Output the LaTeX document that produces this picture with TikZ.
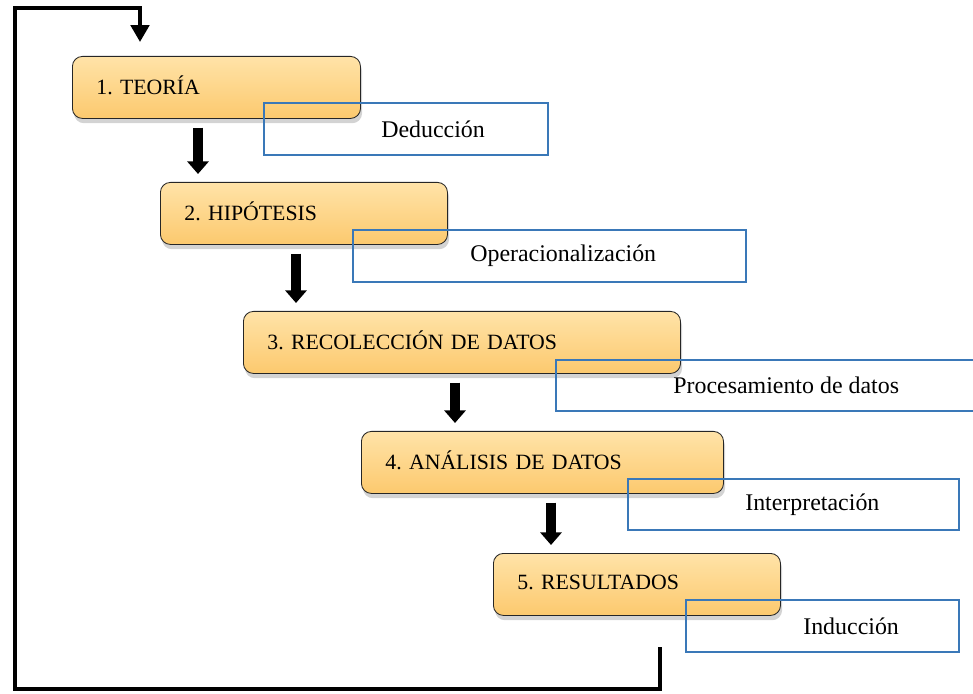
\documentclass[tikz,border=0pt]{standalone}
\usepackage{fontspec}
\setmainfont{Liberation Serif}
\usepackage{tikz}
\usetikzlibrary{calc}
\usetikzlibrary{arrows.meta}
\usetikzlibrary{shadows}

\definecolor{stagetop}{RGB}{255,227,168}
\definecolor{stagebot}{RGB}{252,201,110}
\definecolor{taskblue}{RGB}{58,120,184}

\tikzset{
	stage/.style={rectangle, draw=black!85, semithick, rounded corners=0.25cm, top color=stagetop, bottom color=stagebot, drop shadow={shadow xshift=0.04cm, shadow yshift=-0.12cm, opacity=0.35}, minimum height=1.55cm, inner xsep=0.6cm, text depth=0.1cm, align=left, anchor=north west, font=\fontsize{15.5}{18}\selectfont},
	task/.style={rectangle, draw=taskblue, line width=1.4pt, minimum height=1.3cm, inner sep=0pt, anchor=north west},
	tasktext/.style={anchor=west, inner sep=0pt, font=\fontsize{17}{20}\selectfont},
	bigarrow/.style={line width=7pt, -{Triangle[width=15pt,length=9pt]}, shorten <=0.22cm, shorten >=0.2cm},
	feedback/.style={line width=2.8pt, -{Triangle[width=13pt,length=12pt]}, shorten >=0.35cm}
}

\begin{document}
\frenchspacing
\begin{tikzpicture}[x=0.025cm, y=-0.025cm]

\useasboundingbox (0,0) rectangle (973,694);

%% stages
\node at (72,56) [stage, text width=6.0cm] (teoria) {1. TEORÍA};
\node at (160,182) [stage, text width=5.975cm] (hipotesis) {2. HIPÓTESIS};
\node at (243,311) [stage, text width=9.725cm] (recoleccion) {3. RECOLECCIÓN DE DATOS};
\node at (361,431) [stage, text width=7.85cm] (analisis) {4. ANÁLISIS DE DATOS};
\node at (493,553) [stage, text width=5.975cm] (resultados) {5. RESULTADOS};

%% blue boxes
\node at (263,102) [task, minimum width=7.1cm] (deduccion) {};
\node at ([xshift=2.95cm]deduccion.west) [tasktext] (deducciontxt) {Deducción};

\node at (352,229) [task, minimum width=9.825cm] (operacion) {};
\node at ([xshift=2.95cm]operacion.west) [tasktext] (operaciontxt) {Operacionalización};

\node at (555,359) [task, minimum width=10.75cm, minimum height=1.275cm] (procesamiento) {};
\node at ([xshift=2.95cm]procesamiento.west) [tasktext] (procesamientotxt) {Procesamiento de datos};

\node at (627,478) [task, minimum width=8.275cm, minimum height=1.275cm] (interpretacion) {};
\node at ([xshift=2.95cm]interpretacion.west) [tasktext] (interpretaciontxt) {Interpretación};

\node at (685,599) [task, minimum width=6.825cm] (induccion) {};
\node at ([xshift=2.95cm]induccion.west) [tasktext] (inducciontxt) {Inducción};

%% arrows between stages
\coordinate (a1) at (198,0);
\coordinate (a2) at (296,0);
\coordinate (a3) at (455,0);
\coordinate (a4) at (551,0);
\draw [bigarrow] (teoria.south -| a1) -- (hipotesis.north -| a1);
\draw [bigarrow] (hipotesis.south -| a2) -- (recoleccion.north -| a2);
\draw [bigarrow] (recoleccion.south -| a3) -- (analisis.north -| a3);
\draw [bigarrow] (analisis.south -| a4) -- (resultados.north -| a4);

%% back to the theory
\coordinate (fbstart) at (660,647);
\coordinate (fbend) at (140,0);
\draw [feedback] (fbstart) |- (15,689) -- (15,8) -| (teoria.north -| fbend);

\end{tikzpicture}
\end{document}
